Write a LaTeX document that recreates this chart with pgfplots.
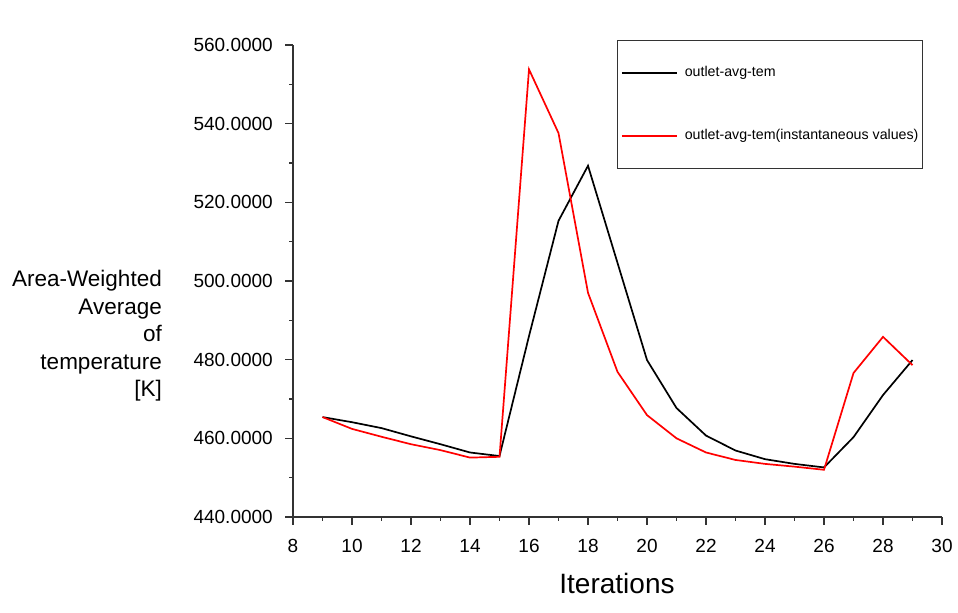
\documentclass[border=0pt]{standalone}
\usepackage{pgfplots}
\pgfplotsset{compat=1.18}
\usepackage{fontspec}
\setmainfont{Liberation Sans}
\begin{document}
\begin{tikzpicture}[x=1bp,y=1bp]
\path[use as bounding box] (0,0) rectangle (958,613);
\begin{axis}[
  at={(293bp,96bp)}, anchor=south west,
  scale only axis, width=649bp, height=472bp,
  xmin=8, xmax=30, ymin=440, ymax=560,
  axis lines=left,
  axis line style={-, black!80, line width=1.3bp},
  xtick={8,10,...,30}, ytick={440,460,...,560},
  minor x tick num=1, minor y tick num=1,
  tick align=outside,
  major tick length=8bp, minor tick length=4bp,
  tick style={black!80, line width=1.2bp},
  /pgf/number format/assume math mode=true,
  yticklabel style={/pgf/number format/fixed, /pgf/number format/fixed zerofill, /pgf/number format/precision=4, /pgf/number format/1000 sep={}},
  ticklabel style={font=\fontsize{19bp}{22bp}\selectfont, inner sep=0pt},
  xticklabel style={yshift=-14bp},
  yticklabel style={xshift=-12bp},
  legend style={at={(0.4985,1.0106)}, anchor=north west,
    draw=black!80, line width=1.2bp,
    inner xsep=4bp, inner ysep=26bp,
    row sep=49.7bp, column sep=7bp,
    font=\fontsize{14.2bp}{16bp}\selectfont,
    nodes={inner sep=0pt, text height=10bp, text depth=3bp}},
  legend cell align=left,
  legend image code/.code={\draw[#1, line width=1.7bp] (0bp,0bp) -- (55bp,0bp);},
]
\addplot[black, line width=1.7bp] coordinates {
(9,465.4) (10,464.1) (11,462.6) (12,460.5) (13,458.5) (14,456.4) (15,455.5)
(16,486.0) (17,515.3) (18,529.3) (19,504.6) (20,479.9) (21,467.7) (22,460.7)
(23,456.9) (24,454.7) (25,453.5) (26,452.6) (27,460.3) (28,471.0) (29,479.9)};
\addlegendentry{outlet-avg-tem}
\addplot[red, line width=1.7bp] coordinates {
(9,465.4) (10,462.4) (11,460.4) (12,458.5) (13,457.0) (14,455.1) (15,455.3)
(16,553.8) (17,537.6) (18,497.0) (19,476.9) (20,465.9) (21,460.0) (22,456.4)
(23,454.5) (24,453.5) (25,452.8) (26,452.0) (27,476.6) (28,485.8) (29,478.6)};
\addlegendentry{outlet-avg-tem(instantaneous values)}
\end{axis}
\node[anchor=east, align=right, inner sep=0pt, font=\fontsize{22.5bp}{27.5bp}\selectfont] at (162,277) {Area-Weighted\\Average\\of\\temperature\\{[K]}};
\node[inner sep=0pt, font=\fontsize{28bp}{32bp}\selectfont] at (617,30) {Iterations};
\end{tikzpicture}
\end{document}
